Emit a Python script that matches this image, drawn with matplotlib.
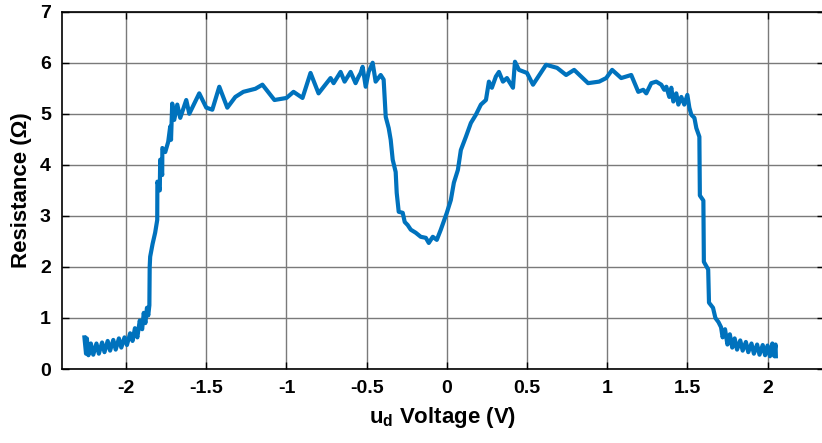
import matplotlib
matplotlib.use("Agg")
import matplotlib.pyplot as plt

plt.rcParams['font.family'] = ['Liberation Sans', 'DejaVu Sans']
plt.rcParams['font.weight'] = 'bold'
plt.rcParams['mathtext.fontset'] = 'custom'
plt.rcParams['mathtext.rm'] = 'Liberation Sans:bold'

# sweep of the drive voltage and the measured resistance
voltage = [
    -2.26, -2.25, -2.245, -2.235, -2.22, -2.205, -2.185, -2.17, -2.15, -2.135,
    -2.115, -2.1, -2.08, -2.065, -2.045, -2.03, -2.01, -1.995, -1.975, -1.96,
    -1.945, -1.93, -1.915, -1.9, -1.89, -1.88, -1.87, -1.862, -1.855, -1.853,
    -1.85, -1.835, -1.819, -1.806,
    -1.805, -1.79, -1.7875, -1.775, -1.774, -1.756, -1.7375, -1.725, -1.72, -1.7125,
    -1.7, -1.681, -1.6625, -1.625, -1.606, -1.544, -1.5, -1.4625, -1.419, -1.369,
    -1.319, -1.269, -1.194, -1.15, -1.075, -1.0, -0.956, -0.9, -0.85, -0.8,
    -0.725, -0.706, -0.6625, -0.6375, -0.6, -0.569, -0.55, -0.5375, -0.525, -0.506,
    -0.4875, -0.4625, -0.444, -0.4125, -0.394, -0.381, -0.3625, -0.35, -0.3375, -0.319,
    -0.3125, -0.3, -0.275, -0.2625, -0.244, -0.225, -0.194, -0.1625, -0.131, -0.1125,
    -0.0875, -0.0625, -0.0375, 0.0, 0.025, 0.044, 0.069, 0.0875, 0.119, 0.15,
    0.181, 0.2125, 0.244, 0.2625, 0.281, 0.306, 0.325, 0.35, 0.375, 0.4125,
    0.425, 0.45, 0.5, 0.5375, 0.619, 0.6875, 0.744, 0.794, 0.881, 0.95,
    0.994, 1.031, 1.0875, 1.15, 1.194, 1.225, 1.244, 1.275, 1.306, 1.3375,
    1.356, 1.369, 1.3875, 1.4, 1.4125, 1.431, 1.444, 1.4625, 1.481, 1.5,
    1.5125, 1.525, 1.544, 1.556, 1.575, 1.578, 1.6, 1.603, 1.63, 1.635,
    1.66, 1.675, 1.694, 1.71,
    1.72, 1.735, 1.75, 1.765, 1.78, 1.795, 1.81, 1.83, 1.845, 1.865,
    1.88, 1.9, 1.915, 1.935, 1.95, 1.97, 1.985, 2.0, 2.015, 2.03,
    2.04, 2.05, 2.052,
]
resistance = [
    0.62, 0.3, 0.6, 0.27, 0.5, 0.28, 0.5, 0.3, 0.52, 0.33,
    0.55, 0.36, 0.57, 0.38, 0.6, 0.42, 0.62, 0.47, 0.7, 0.55,
    0.8, 0.62, 0.95, 0.78, 1.1, 0.9, 1.2, 1.05, 1.25, 2.0,
    2.2, 2.45, 2.67, 2.92,
    3.67, 3.5, 4.1, 3.8, 4.33, 4.25, 4.45, 4.75, 4.49, 5.2,
    4.88, 5.18, 4.92, 5.27, 5.0, 5.4, 5.12, 5.08, 5.53, 5.12,
    5.33, 5.43, 5.49, 5.57, 5.27, 5.31, 5.43, 5.31, 5.8, 5.4,
    5.7, 5.6, 5.82, 5.63, 5.82, 5.6, 5.73, 5.8, 5.92, 5.53,
    5.82, 6.0, 5.63, 5.76, 5.67, 4.94, 4.72, 4.49, 4.1, 3.86,
    3.45, 3.08, 3.06, 2.88, 2.82, 2.73, 2.67, 2.59, 2.57, 2.47,
    2.59, 2.53, 2.73, 3.06, 3.31, 3.65, 3.9, 4.29, 4.55, 4.82,
    4.98, 5.18, 5.27, 5.63, 5.51, 5.73, 5.82, 5.63, 5.7, 5.51,
    6.02, 5.86, 5.8, 5.57, 5.96, 5.9, 5.76, 5.86, 5.6, 5.63,
    5.7, 5.86, 5.7, 5.76, 5.43, 5.47, 5.4, 5.6, 5.63, 5.57,
    5.47, 5.53, 5.33, 5.51, 5.24, 5.4, 5.18, 5.33, 5.18, 5.37,
    5.12, 4.98, 4.92, 4.72, 4.55, 3.4, 3.3, 2.1, 1.95, 1.3,
    1.2, 1.0, 0.92, 0.82,
    0.62, 0.78, 0.48, 0.68, 0.42, 0.6, 0.38, 0.56, 0.36, 0.53,
    0.33, 0.5, 0.3, 0.48, 0.28, 0.47, 0.27, 0.46, 0.25, 0.5,
    0.26, 0.48, 0.25,
]

x_ticks = [-2, -1.5, -1, -0.5, 0, 0.5, 1, 1.5, 2]
x_tick_labels = ["-2", "-1.5", "-1", "-0.5", "0", "0.5", "1", "1.5", "2"]
y_ticks = [0, 1, 2, 3, 4, 5, 6, 7]

fig = plt.figure(figsize=(8.22, 4.43), dpi=100)
ax = fig.add_axes([0.0754, 0.167, 0.9266, 0.8066])

ax.plot(voltage, resistance, color="#0072BD", linewidth=3, zorder=3)

ax.set_xlim(-2.4, 2.35)
ax.set_ylim(0, 7)
ax.set_xticks(x_ticks)
ax.set_xticklabels(x_tick_labels)
ax.set_yticks(y_ticks)
ax.tick_params(direction="in", length=5, width=1, labelsize=14,
               top=True, right=True, pad=8, colors="black")
ax.grid(True, color="#7a7a7a", linewidth=1)
for sp in ax.spines.values():
    sp.set_linewidth(1.2)

ax.set_xlabel(r"u$_\mathrm{d}$ Voltage (V)", fontsize=16, fontweight="bold", labelpad=6)
ax.set_ylabel("Resistance (Ω)", fontsize=16, fontweight="bold", labelpad=6)

fig.savefig("out.png", dpi=100)
